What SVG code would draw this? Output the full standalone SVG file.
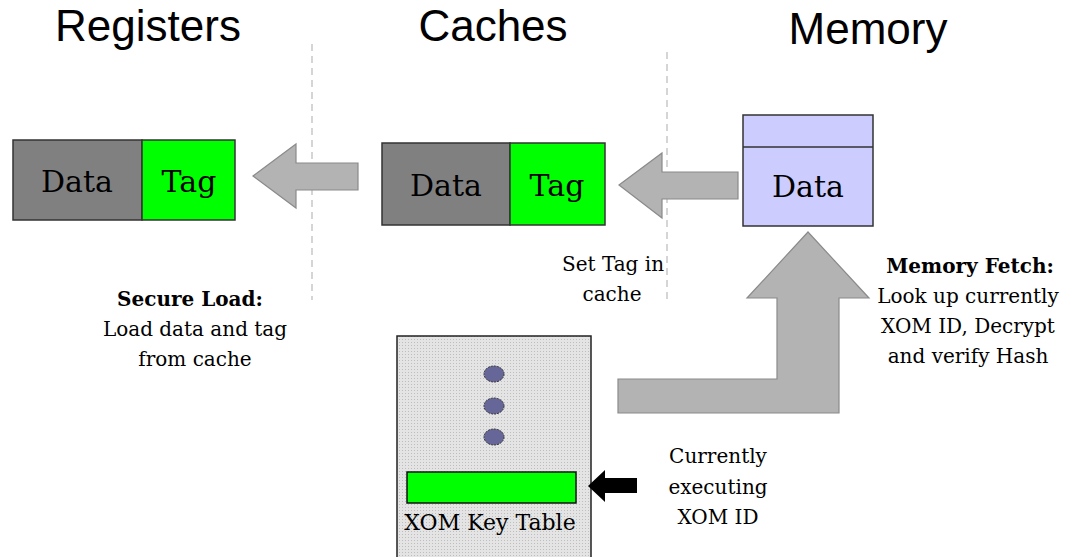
<svg xmlns="http://www.w3.org/2000/svg" width="1068" height="557" viewBox="0 0 1068 557">
  <defs>
    <pattern id="dots" width="3" height="3" patternUnits="userSpaceOnUse">
      <rect width="3" height="3" fill="#e4e4e4"/>
      <rect width="1" height="1" fill="#bdbdbd"/>
    </pattern>
  </defs>
  <style>
    .title { font-family: "Liberation Sans", Arial, sans-serif; font-size: 44px; fill: #000; text-anchor: middle; }
    .cell { font-family: "DejaVu Serif", "Liberation Serif", serif; font-size: 30px; fill: #000; text-anchor: middle; }
    .note { font-family: "DejaVu Serif", "Liberation Serif", serif; font-size: 20px; fill: #000; text-anchor: middle; }
    .bold { font-weight: bold; }
    .sep { stroke: #c8c8c8; stroke-width: 1.5; stroke-dasharray: 7 5; fill: none; }
    .box { stroke: #333; stroke-width: 1.5; }
    .flow { fill: #b3b3b3; stroke: #8a8a8a; stroke-width: 1.2; }
  </style>

  <rect width="1068" height="557" fill="#fff"/>

  <!-- column headings -->
  <text class="title" x="148" y="41">Registers</text>
  <text class="title" x="493" y="41">Caches</text>
  <text class="title" x="868" y="44">Memory</text>

  <!-- column separators -->
  <line class="sep" x1="312" y1="44" x2="312" y2="300"/>
  <line class="sep" x1="667" y1="52" x2="667" y2="300"/>

  <!-- register entry -->
  <g id="register">
    <rect class="box" x="13" y="140" width="129" height="80" fill="#808080"/>
    <rect class="box" x="142" y="140" width="93" height="80" fill="#00ff00"/>
    <text class="cell" x="77" y="192">Data</text>
    <text class="cell" x="189" y="192">Tag</text>
  </g>

  <!-- cache entry -->
  <g id="cache">
    <rect class="box" x="382" y="143" width="128" height="82" fill="#808080"/>
    <rect class="box" x="510" y="143" width="95" height="82" fill="#00ff00"/>
    <text class="cell" x="446" y="196">Data</text>
    <text class="cell" x="557" y="196">Tag</text>
  </g>

  <!-- memory entry -->
  <g id="memory">
    <rect class="box" x="743" y="115" width="130" height="111" fill="#ccccff"/>
    <line class="box" x1="743" y1="147" x2="873" y2="147"/>
    <text class="cell" x="808" y="197">Data</text>
  </g>

  <!-- XOM key table -->
  <g id="key-table">
    <rect x="397" y="336" width="194" height="230" fill="url(#dots)" stroke="#222" stroke-width="1.5"/>
    <ellipse cx="494" cy="374" rx="10" ry="8" fill="#666699" stroke="#333" stroke-width="1" stroke-dasharray="2 1"/>
    <ellipse cx="494" cy="406" rx="10" ry="8" fill="#666699" stroke="#333" stroke-width="1" stroke-dasharray="2 1"/>
    <ellipse cx="494" cy="437" rx="10" ry="8" fill="#666699" stroke="#333" stroke-width="1" stroke-dasharray="2 1"/>
    <rect x="407" y="472" width="169" height="31" fill="#00ff00" stroke="#111" stroke-width="1.5"/>
    <text class="note" x="490" y="530" style="font-size:22px">XOM Key Table</text>
  </g>

  <!-- connectors -->
  <g id="connectors">
    <polygon class="flow" points="253,176 296,144 296,163 358,163 358,190 296,190 296,208"/>
    <polygon class="flow" points="619,185 662,153 662,172 738,172 738,199 662,199 662,218"/>
    <polygon class="flow" points="808,232 869,298 839,298 839,413 618,413 618,379 777,379 777,298 747,298"/>
    <polygon fill="#000" points="588,486 605,470 605,478 637,478 637,493 605,493 605,502"/>
  </g>

  <!-- annotations -->
  <g id="secure-load-note">
    <text class="note bold" x="190" y="306">Secure Load:</text>
    <text class="note" x="195" y="336">Load data and tag</text>
    <text class="note" x="195" y="366">from cache</text>
  </g>
  <g id="set-tag-note">
    <text class="note" x="613" y="271">Set Tag in</text>
    <text class="note" x="612" y="301">cache</text>
  </g>
  <g id="memory-fetch-note">
    <text class="note bold" x="970" y="273">Memory Fetch:</text>
    <text class="note" x="968" y="303">Look up currently</text>
    <text class="note" x="968" y="333">XOM ID, Decrypt</text>
    <text class="note" x="968" y="363">and verify Hash</text>
  </g>
  <g id="current-id-note">
    <text class="note" x="718" y="463">Currently</text>
    <text class="note" x="718" y="494">executing</text>
    <text class="note" x="718" y="524">XOM ID</text>
  </g>
</svg>
